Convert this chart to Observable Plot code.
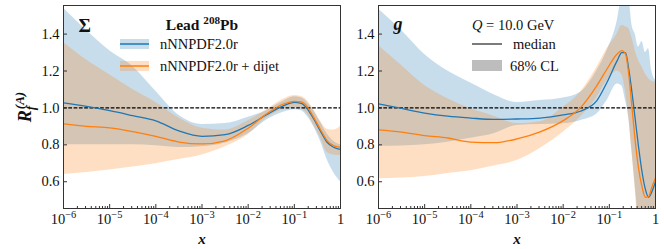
<!DOCTYPE html>
<html><head><meta charset="utf-8">
<script src="https://cdn.jsdelivr.net/npm/d3@7"></script>
<script src="https://cdn.jsdelivr.net/npm/@observablehq/plot@0.6"></script>
<style>
body{margin:0;background:#fff;}
#wrap{display:flex;width:664px;height:249px;overflow:hidden;}
</style></head><body><div id="wrap"></div>
<script>
// ---------- data (log10 x grids and R values) ----------
const SERIES = ["nNNPDF2.0r", "nNNPDF2.0r + dijet"];
const PANEL_LABELS = ["Σ", "g"];
const NUCLEUS = "Lead ^{208}Pb";
const SCALE_TEXT = "10.0 GeV";
const STYLE_LABELS = ["median", "68% CL"];
const Y_TICKS = [0.6, 0.8, 1.0, 1.2, 1.4];
const X_MAJOR_EXP = [-6, -5, -4, -3, -2, -1, 0];
const Y_DOMAIN = [0.455, 1.555];

const LX_SIGMA = [-6, -5.5, -5, -4.5, -4, -3.5, -3, -2.5, -2, -1.6, -1.25, -1.0, -0.85, -0.72, -0.58, -0.44, -0.29, -0.15, 0];
const SIGMA_BLUE_MED = [1.027, 1.008, 0.985, 0.958, 0.93, 0.875, 0.846, 0.855, 0.905, 0.963, 1.01, 1.03, 1.025, 0.995, 0.94, 0.877, 0.814, 0.787, 0.775];
const SIGMA_BLUE_HI  = [1.54, 1.42, 1.31, 1.225, 1.09, 0.96, 0.91, 0.915, 0.95, 0.985, 1.035, 1.06, 1.055, 1.03, 0.985, 0.925, 0.86, 0.82, 0.8];
const SIGMA_BLUE_LO  = [0.8, 0.8, 0.8, 0.8, 0.795, 0.785, 0.79, 0.81, 0.86, 0.935, 0.975, 0.99, 0.985, 0.955, 0.9, 0.823, 0.72, 0.65, 0.6];
const SIGMA_ORANGE_MED = [0.913, 0.9, 0.892, 0.872, 0.846, 0.815, 0.805, 0.822, 0.89, 0.968, 1.02, 1.036, 1.033, 1.007, 0.949, 0.886, 0.823, 0.796, 0.787];
const SIGMA_ORANGE_HI  = [1.355, 1.26, 1.18, 1.1, 1.03, 0.945, 0.89, 0.88, 0.93, 0.99, 1.045, 1.067, 1.062, 1.04, 0.99, 0.93, 0.885, 0.88, 0.9];
const SIGMA_ORANGE_LO  = [0.639, 0.65, 0.664, 0.68, 0.698, 0.72, 0.745, 0.79, 0.855, 0.945, 0.99, 1.003, 0.995, 0.967, 0.905, 0.841, 0.76, 0.745, 0.742];

const LX_G = [-6, -5.5, -5, -4.5, -4, -3.5, -3, -2.5, -2, -1.63, -1.27, -1.05, -0.83, -0.73, -0.65, -0.58, -0.51, -0.44, -0.37, -0.29, -0.22, -0.15, -0.08, 0];
const G_BLUE_MED = [1.022, 0.997, 0.972, 0.955, 0.945, 0.938, 0.94, 0.945, 0.962, 0.982, 1.04, 1.139, 1.256, 1.30, 1.30, 1.21, 1.085, 0.94, 0.795, 0.65, 0.56, 0.516, 0.545, 0.6];
const G_BLUE_HI  = [1.536, 1.42, 1.29, 1.2, 1.135, 1.072, 1.03, 1.04, 1.054, 1.084, 1.202, 1.31, 1.47, 1.6, 1.62, 1.6, 1.45, 1.40, 1.33, 1.36, 1.30, 1.32, 1.2, 1.15];
const G_BLUE_LO  = [0.792, 0.793, 0.8, 0.814, 0.835, 0.86, 0.905, 0.91, 0.914, 0.931, 0.967, 1.04, 1.13, 1.12, 1.04, 0.95, 0.77, 0.58, 0.4, 0.3, 0.3, 0.3, 0.3, 0.3];
const G_ORANGE_MED = [0.881, 0.869, 0.85, 0.837, 0.815, 0.812, 0.832, 0.87, 0.931, 1.0, 1.121, 1.211, 1.292, 1.31, 1.292, 1.184, 1.003, 0.823, 0.678, 0.57, 0.516, 0.52, 0.57, 0.62];
const G_ORANGE_HI  = [1.337, 1.23, 1.121, 1.05, 0.995, 0.955, 0.915, 0.925, 1.003, 1.084, 1.22, 1.32, 1.4, 1.446, 1.44, 1.43, 1.38, 1.31, 1.26, 1.22, 1.184, 1.16, 1.145, 1.14];
const G_ORANGE_LO  = [0.616, 0.62, 0.628, 0.645, 0.66, 0.685, 0.715, 0.78, 0.868, 0.949, 1.057, 1.148, 1.2, 1.18, 1.09, 0.95, 0.76, 0.56, 0.35, 0.3, 0.3, 0.3, 0.3, 0.3];

// ---------- styling ----------
const BLUE = "#1f77b4", ORANGE = "#ff7f0e";
const FONT = "\"Liberation Serif\", \"DejaVu Serif\", serif";
const H = 249, MT = 5, MB = 41;
const FH = H - MT - MB;

const X_MAJOR = X_MAJOR_EXP.map(e => 10 ** e);
const X_MINOR = [];
X_MAJOR_EXP.slice(0, -1).forEach(e => { for (let j = 2; j <= 9; j++) X_MINOR.push(j * 10 ** e); });
const fmtX = d => { const e = Math.round(Math.log10(d)); return e === 0 ? "1" : `10^{${e < 0 ? "−" : ""}${Math.abs(e)}}`; };

const rows = (lx, med, lo, hi) => lx.map((v, i) => ({x: 10 ** v, med: med[i], lo: lo[i], hi: hi[i]}));

function panel({width, marginLeft, marginRight, blue, orange, extra}) {
  const FW = width - marginLeft - marginRight;
  return Plot.plot({
    width, height: H, marginLeft, marginRight, marginTop: MT, marginBottom: MB,
    x: {type: "log", domain: [1e-6, 1]},
    y: {domain: Y_DOMAIN},
    style: {fontFamily: FONT, fontSize: "14.5px", color: "#111", background: "white", overflow: "visible"},
    marks: [
      Plot.areaY(blue, {x: "x", y1: "lo", y2: "hi", fill: BLUE, fillOpacity: 0.25, curve: "monotone-x", clip: true}),
      Plot.areaY(orange, {x: "x", y1: "lo", y2: "hi", fill: ORANGE, fillOpacity: 0.25, curve: "monotone-x", clip: true}),
      Plot.ruleY([1], {stroke: "#000", strokeWidth: 1.2, strokeDasharray: "3.7,1.6"}),
      Plot.lineY(blue, {x: "x", y: "med", stroke: BLUE, strokeWidth: 1.3, curve: "monotone-x", clip: true}),
      Plot.lineY(orange, {x: "x", y: "med", stroke: ORANGE, strokeWidth: 1.3, curve: "monotone-x", clip: true}),
      Plot.tickX(X_MAJOR, {stroke: "#333", insetTop: FH - 4}),
      Plot.tickX(X_MINOR, {stroke: "#333", insetTop: FH - 2}),
      Plot.tickY(Y_TICKS, {stroke: "#333", insetRight: FW - 4}),
      Plot.axisX({ticks: X_MAJOR, tickSize: 0, tickPadding: 5, tickFormat: fmtX, label: null}),
      Plot.axisY({ticks: Y_TICKS, tickSize: 0, tickPadding: 4, tickFormat: d3.format(".1f"), label: null}),
      Plot.frame({stroke: "#333"}),
      Plot.text(["x"], {frameAnchor: "bottom", lineAnchor: "middle", textAnchor: "middle", dy: 31, fontStyle: "italic", fontWeight: "bold", fontSize: 15}),
      ...extra
    ]
  });
}

const svgL = panel({
  width: 345, marginLeft: 63, marginRight: 5,
  blue: rows(LX_SIGMA, SIGMA_BLUE_MED, SIGMA_BLUE_LO, SIGMA_BLUE_HI),
  orange: rows(LX_SIGMA, SIGMA_ORANGE_MED, SIGMA_ORANGE_LO, SIGMA_ORANGE_HI),
  extra: [
    Plot.text([PANEL_LABELS[0]], {frameAnchor: "top-left", lineAnchor: "middle", dx: 15, dy: 20, textAnchor: "start", fontWeight: "bold", fontSize: 19}),
    Plot.text([NUCLEUS], {frameAnchor: "top", lineAnchor: "middle", textAnchor: "middle", dy: 20, fontWeight: "bold", fontSize: 15.5}),
    Plot.text(["R_{f}^{(A)}"], {frameAnchor: "left", lineAnchor: "middle", textAnchor: "middle", dx: -38, rotate: -90, fontStyle: "italic", fontWeight: "bold", fontSize: 18})
  ]
});
const svgR = panel({
  width: 319, marginLeft: 33, marginRight: 9,
  blue: rows(LX_G, G_BLUE_MED, G_BLUE_LO, G_BLUE_HI),
  orange: rows(LX_G, G_ORANGE_MED, G_ORANGE_LO, G_ORANGE_HI),
  extra: [
    Plot.text([PANEL_LABELS[1]], {frameAnchor: "top-left", lineAnchor: "middle", dx: 15, dy: 19, textAnchor: "start", fontWeight: "bold", fontStyle: "italic", fontSize: 18})
  ]
});
const wrap = document.getElementById("wrap");
wrap.appendChild(svgL);
wrap.appendChild(svgR);

// ---------- rich text (super/subscripts) ----------
const NS = "http://www.w3.org/2000/svg";
function richify(root) {
  root.querySelectorAll("text").forEach(t => {
    const s = t.textContent;
    if (!/[\^_]\{/.test(s)) return;
    const fs = parseFloat(getComputedStyle(t).fontSize) || 14.5;
    while (t.firstChild) t.removeChild(t.firstChild);
    const re = /([\^_])\{([^}]*)\}|([^\^_]+)/g;
    let m, cur = 0, prev = null;
    while ((m = re.exec(s))) {
      const ts = document.createElementNS(NS, "tspan");
      let target;
      if (m[3] !== undefined) { ts.textContent = m[3]; target = 0; }
      else {
        ts.textContent = m[2];
        ts.setAttribute("font-size", (fs * 0.72).toFixed(2));
        target = m[1] === "^" ? fs * 0.42 : -fs * 0.22;
      }
      const dy = cur - target;
      if (dy) ts.setAttribute("dy", dy.toFixed(2));
      t.appendChild(ts);
      if (m[1] === "^" && prev && prev.type === "_") {
        ts.setAttribute("dx", (-prev.el.getComputedTextLength() + 1).toFixed(2));
      }
      prev = {type: m[1] || "", el: ts};
      cur = target;
    }
  });
}
richify(svgL);
richify(svgR);

// ---------- legends ----------
const gl = d3.select(svgL).append("g").attr("font-family", FONT).attr("font-size", 14.5).attr("fill", "#111").attr("text-anchor", "start");
[[44, BLUE, SERIES[0]], [66, ORANGE, SERIES[1]]].forEach(([y, c, t]) => {
  gl.append("rect").attr("x", 120).attr("y", y - 5).attr("width", 29).attr("height", 10).attr("fill", c).attr("fill-opacity", 0.25);
  gl.append("line").attr("x1", 120).attr("x2", 149).attr("y1", y).attr("y2", y).attr("stroke", c).attr("stroke-width", 1.5);
  gl.append("text").attr("x", 160).attr("y", y).attr("dy", "0.35em").text(t);
});

const gr = d3.select(svgR).append("g").attr("font-family", FONT).attr("font-size", 14.5).attr("fill", "#111").attr("text-anchor", "start");
const qt = gr.append("text").attr("x", 127).attr("y", 25).attr("dy", "0.35em");
qt.append("tspan").attr("font-style", "italic").text("Q");
qt.append("tspan").text("\u00a0=\u00a0" + SCALE_TEXT.replace(" ", "\u00a0"));
gr.append("line").attr("x1", 127).attr("x2", 157).attr("y1", 44).attr("y2", 44).attr("stroke", "#333").attr("stroke-width", 1.3);
gr.append("text").attr("x", 168).attr("y", 44).attr("dy", "0.35em").text(STYLE_LABELS[0]);
gr.append("rect").attr("x", 127).attr("y", 60).attr("width", 30).attr("height", 11).attr("fill", "#bdbdbd");
gr.append("text").attr("x", 165).attr("y", 66).attr("dy", "0.35em").text(STYLE_LABELS[1]);
</script>
</body></html>
